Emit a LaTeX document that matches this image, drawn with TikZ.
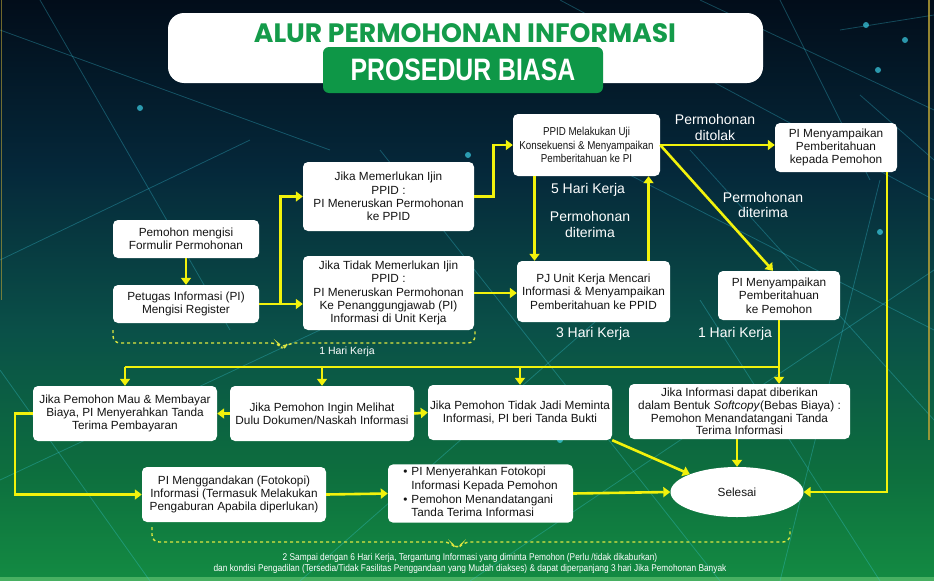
\documentclass[tikz,border=0pt]{standalone}
\usepackage{fontspec}
\setmainfont{Liberation Sans}
\newfontfamily\narrowfont{Liberation Sans}[FakeStretch=0.85]
\newfontfamily\condfont{Liberation Sans}[FakeStretch=0.8]
\newfontfamily\titlefont{Poppins}
\usetikzlibrary{arrows.meta,shapes.geometric}
\definecolor{arw}{HTML}{F2F20C}
\definecolor{ttlgreen}{HTML}{149B4A}
\definecolor{subgreen}{HTML}{0E9747}
\definecolor{txt}{HTML}{141414}
\definecolor{brc}{HTML}{DDE640}
\definecolor{net}{HTML}{3CCFE6}
\definecolor{gold}{HTML}{B9A236}
\definecolor{bgA}{HTML}{020D1A}
\definecolor{bgB}{HTML}{05283A}
\definecolor{bgC}{HTML}{0A5048}
\definecolor{bgD}{HTML}{0D6E3E}
\definecolor{bgE}{HTML}{138A42}
\definecolor{bgS}{HTML}{48B062}
\newcommand\boxfnt{\fontsize{11.8}{13.3}\selectfont}
\newcommand\lowfnt{\fontsize{11.8}{12.7}\selectfont}
\newcommand\nrwfnt{\narrowfont\fontsize{11.5}{13.3}\selectfont}
\newcommand\lblfnt{\fontsize{14}{15.5}\selectfont}
\newcommand\smlfnt{\fontsize{10.5}{12}\selectfont}
\newcommand\notefnt{\narrowfont\fontsize{9.8}{11}\selectfont}
\begin{document}
\begin{tikzpicture}[x=1pt,y=-1pt,
  box/.style={fill=white,rounded corners=5pt,align=center,inner sep=2pt,text=txt,font=\boxfnt},
  flow/.style={draw=arw,line width=2.6pt,-{Triangle[width=10pt,length=7pt]}},
  bus/.style={draw=arw,line width=2.6pt},
  lbl/.style={text=white,font=\lblfnt,align=center},
  brc/.style={draw=brc,dashed,line width=1.4pt,rounded corners=7pt}]
\useasboundingbox (0,0) rectangle (934,581);
\shade[top color=bgA,bottom color=bgB] (0,0) rectangle (934,171);
\shade[top color=bgB,bottom color=bgC] (0,170) rectangle (934,331);
\shade[top color=bgC,bottom color=bgD] (0,330) rectangle (934,471);
\shade[top color=bgD,bottom color=bgE] (0,470) rectangle (934,577);
\fill[bgS] (0,577) rectangle (934,581);
\begin{scope}[draw=net,line width=.8pt,opacity=.3]
\foreach \xa/\ya/\xb/\yb in {0/30/330/150,40/0/230/330,0/260/250/140,560/0/934/200,700/0/934/110,780/0/870/180,840/30/934/15,860/95/934/160,620/170/934/330,380/150/720/581,470/581/934/270,0/480/320/330,300/581/620/300,0/370/150/581,690/150/934/420,880/581/700/300,880/180/780/581}
  \draw[net] (\xa,\ya)--(\xb,\yb);
\end{scope}
\foreach \xa/\ya in {866/25,878/70,468/155,140/108,880/232,560/440,905/40}
  \fill[net,opacity=.7] (\xa,\ya) circle (3);
\draw[gold,line width=1.5pt,opacity=.8] (929,0)--(929,440);\draw[gold,line width=1.5pt,opacity=.6] (1.5,0)--(1.5,300);
\node[fill=white,rounded corners=16pt,minimum width=595,minimum height=70] (hdr) at (465.5,48) {};
\node[text=ttlgreen,font={\titlefont\bfseries\fontsize{26.6}{30}\selectfont}] (ttl) at (465,33) {ALUR PERMOHONAN INFORMASI};
\node[fill=subgreen,rounded corners=6pt,minimum width=280,minimum height=46,inner sep=0pt,text=white,font={\condfont\bfseries\fontsize{31}{34}\selectfont}] (sub) at (463,70) {PROSEDUR BIASA};
\node[box,minimum width=146,minimum height=38] (n1) at (186,239) {Pemohon mengisi\\Formulir Permohonan};
\node[box,minimum width=146,minimum height=38] (n2) at (186,304) {Petugas Informasi (PI)\\Mengisi Register};
\node[box,minimum width=171,minimum height=69] (n3) at (388.5,196.5) {Jika Memerlukan Ijin\\PPID :\\PI Meneruskan Permohonan\\ke PPID};
\node[box,minimum width=171,minimum height=74] (n4) at (388.5,293) {Jika Tidak Memerlukan Ijin\\PPID :\\PI Meneruskan Permohonan\\Ke Penanggungjawab (PI)\\Informasi di Unit Kerja};
\node[box,font=\nrwfnt,minimum width=147,minimum height=62] (n5) at (586.5,145) {PPID Melakukan Uji\\Konsekuensi \& Menyampaikan\\Pemberitahuan ke PI};
\node[box,minimum width=153,minimum height=61] (n6) at (593.5,291.5) {PJ Unit Kerja Mencari\\Informasi \& Menyampaikan\\Pemberitahuan ke PPID};
\node[box,minimum width=122,minimum height=49] (n7) at (836,147.5) {PI Menyampaikan\\Pemberitahuan\\kepada Pemohon};
\node[box,minimum width=122,minimum height=49] (n8) at (779,295.5) {PI Menyampaikan\\Pemberitahuan\\ke Pemohon};
\node[box,font=\lowfnt,minimum width=184,minimum height=55] (nA) at (125,413.5) {Jika Pemohon Mau \& Membayar\\Biaya, PI Menyerahkan Tanda\\Terima Pembayaran};
\node[box,font=\lowfnt,minimum width=184,minimum height=55] (nB) at (322,413.5) {Jika Pemohon Ingin Melihat\\Dulu Dokumen/Naskah Informasi};
\node[box,font=\lowfnt,minimum width=184,minimum height=55] (nC) at (520,412.5) {Jika Pemohon Tidak Jadi Meminta\\Informasi, PI beri Tanda Bukti};
\node[box,font=\lowfnt,minimum width=221,minimum height=55] (nD) at (739.5,411.5) {Jika Informasi dapat diberikan\\dalam Bentuk \textit{Softcopy}(Bebas Biaya) :\\Pemohon Menandatangani Tanda\\Terima Informasi};
\node[box,font=\lowfnt,minimum width=184,minimum height=55] (nE) at (234,494.5) {PI Menggandakan (Fotokopi)\\Informasi (Termasuk Melakukan\\Pengaburan Apabila diperlukan)};
\node[box,minimum width=185,minimum height=55] (nF) at (480.5,493.5) {\begin{tabular}{@{}l@{\hspace{4pt}}l@{}}\textbullet&PI Menyerahkan Fotokopi\\&Informasi Kepada Pemohon\\[1pt]\textbullet&Pemohon Menandatangani\\&Tanda Terima Informasi\end{tabular}};
\node[ellipse,fill=white,minimum width=133,minimum height=50,inner sep=0pt,text=txt,font=\boxfnt] (sel) at (737,492) {Selesai};
\node[lbl] (ditolak) at (715,127.5) {Permohonan\\ditolak};
\node[lbl] (hk5) at (588,190) {5 Hari Kerja};
\node[lbl] (terimaL) at (590,224.5) {Permohonan\\diterima};
\node[lbl] (terimaR) at (763,205) {Permohonan\\diterima};
\node[lbl] (hk3) at (593,334) {3 Hari Kerja};
\node[lbl] (hk1) at (735,334) {1 Hari Kerja};
\node[text=white,font=\smlfnt] (hk1s) at (347,352) {1 Hari Kerja};
\node[text=white,font=\notefnt,align=center] (note) at (470,563) {2 Sampai dengan 6 Hari Kerja, Tergantung Informasi yang diminta Pemohon (Perlu /tidak dikaburkan)\\dan kondisi Pengadilan (Tersedia/Tidak Fasilitas Penggandaan yang Mudah diakses) \& dapat diperpanjang 3 hari Jika Pemohonan Banyak};
\draw[brc] (113,330)--(113,343)--(278,343)--(283,349)--(288,343)--(475,343)--(475,330);
\draw[brc] (152,527)--(152,542)--(451,542)--(457,550)--(463,542)--(790,542)--(790,528);
\draw[flow] (n1)--(n2);
\draw[flow] (n2.east)--++(21,0)|-(n3.west);\draw[flow] (n2.east)--(n2.east-|n4.west);
\draw[flow] (n3.east)--++(19,0)|-(n5.west);\draw[flow] (n4.east)--(n4.east-|n6.west);
\draw[flow] ([xshift=-52pt]n5.south)--([xshift=-52pt]n5.south|-n6.north);
\draw[flow] ([xshift=55pt]n6.north)--([xshift=55pt]n6.north|-n5.south);
\draw[flow] (n5.east)--(n5.east-|n7.west);\draw[flow] (n5.east)--([xshift=-6pt]n8.north);
\draw[flow] ([xshift=51pt]n7.south)|-(sel.east);
\coordinate (bus) at (0,367);
\draw[bus] (n8.south|-bus)--(nA.north|-bus);\draw[flow] (n8.south)--(n8.south|-nD.north);
\foreach \n in {nA,nB,nC}\draw[flow] (\n.north|-bus)--(\n.north);
\draw[flow] (nB.west)--(nA.east);\draw[flow] (nB.east)--(nC.west);
\draw[flow] (nA.west)--++(-18,0)|-(nE.west);
\draw[flow] (nE.east)--(nF.west);\draw[flow] (nF.east)--(sel.west);
\draw[flow] (nC.south east)--(sel.north west);\draw[flow] (sel.north|-nD.south)--(sel.north);
\end{tikzpicture}
\end{document}
